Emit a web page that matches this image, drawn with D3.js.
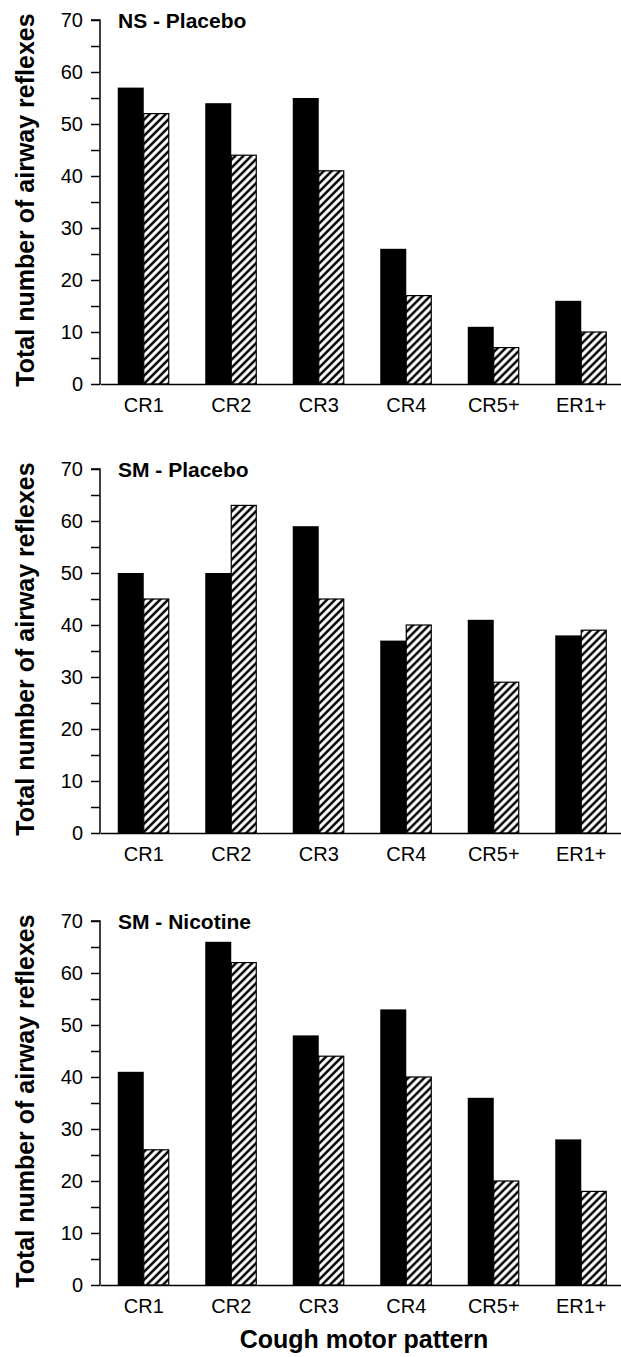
<!DOCTYPE html>
<html>
<head>
<meta charset="utf-8">
<script src="https://cdn.jsdelivr.net/npm/d3@7"></script>
<style>
  body { margin: 0; background: #fff; }
  svg { display: block; font-family: "Liberation Sans", Arial, sans-serif; }
</style>
</head>
<body>
<div id="chart"></div>
<script>
// categories on the x axis
var categories = ["CR1", "CR2", "CR3", "CR4", "CR5+", "ER1+"];

// panel titles
var panelTitles = ["NS - Placebo", "SM - Placebo", "SM - Nicotine"];

// black bars (first series) and hatched bars (second series) for each panel
var nsPlaceboSolid   = [57, 54, 55, 26, 11, 16];
var nsPlaceboHatch   = [52, 44, 41, 17, 7, 10];
var smPlaceboSolid   = [50, 50, 59, 37, 41, 38];
var smPlaceboHatch   = [45, 63, 45, 40, 29, 39];
var smNicotineSolid  = [41, 66, 48, 53, 36, 28];
var smNicotineHatch  = [26, 62, 44, 40, 20, 18];

var yTicks = [0, 5, 10, 15, 20, 25, 30, 35, 40, 45, 50, 55, 60, 65, 70];

var panels = [
    { title: panelTitles[0], solid: nsPlaceboSolid, hatch: nsPlaceboHatch },
    { title: panelTitles[1], solid: smPlaceboSolid, hatch: smPlaceboHatch },
    { title: panelTitles[2], solid: smNicotineSolid, hatch: smNicotineHatch }
];

var svgWidth = 621;
var svgHeight = 1357;

// top of each panel's plot (value 70) and plot height
var panelTops = [20, 469, 921];
var plotHeight = 364;
var axisLeft = 100;
var axisRight = 625;

var svg = d3.select("#chart")
    .append("svg")
    .attr("width", svgWidth)
    .attr("height", svgHeight);

// hatch pattern for the second series
var defs = svg.append("defs");
var pattern = defs.append("pattern")
    .attr("id", "hatch")
    .attr("patternUnits", "userSpaceOnUse")
    .attr("width", 8)
    .attr("height", 8);
pattern.append("rect")
    .attr("width", 8)
    .attr("height", 8)
    .attr("fill", "#fff");
pattern.append("path")
    .attr("d", "M-2,2 L2,-2 M0,8 L8,0 M6,10 L10,6")
    .attr("stroke", "#000")
    .attr("stroke-width", 2.5);

var xScale = d3.scaleBand()
    .domain(categories)
    .range([axisLeft, axisRight])
    .padding(0);

var barWidth = 26;
var subScale = d3.scaleBand()
    .domain(["solid", "hatch"])
    .range([-barWidth, barWidth]);

panels.forEach(function(p, i) {
    var top = panelTops[i];
    var yScale = d3.scaleLinear()
        .domain([0, 70])
        .range([top + plotHeight, top]);

    var g = svg.append("g");

    // bars
    var groups = g.selectAll(".grp")
        .data(categories)
        .enter().append("g")
        .attr("class", "grp")
        .attr("transform", function(d) {
            return "translate(" + (xScale(d) + xScale.bandwidth() / 2) + ",0)";
        });

    groups.append("rect")
        .attr("x", subScale("solid"))
        .attr("width", subScale.bandwidth())
        .attr("y", function(d, j) { return yScale(p.solid[j]); })
        .attr("height", function(d, j) { return yScale(0) - yScale(p.solid[j]); })
        .attr("fill", "#000");

    groups.append("rect")
        .attr("x", subScale("hatch"))
        .attr("width", subScale.bandwidth() - 1)
        .attr("y", function(d, j) { return yScale(p.hatch[j]); })
        .attr("height", function(d, j) { return yScale(0) - yScale(p.hatch[j]); })
        .attr("fill", "url(#hatch)")
        .attr("stroke", "#000")
        .attr("stroke-width", 1.2);

    // y axis
    var leftAxis = d3.axisLeft(yScale)
        .tickValues(yTicks)
        .tickSize(9)
        .tickPadding(8)
        .tickFormat(function(d) { return d % 10 === 0 ? d : ""; });

    var yAxis = g.append("g")
        .attr("transform", "translate(" + axisLeft + ",0)")
        .call(leftAxis);
    yAxis.select(".domain").attr("d", "M-9," + yScale(70) + "H0V" + yScale(0));

    // x axis
    var bottomAxis = d3.axisBottom(xScale)
        .tickSize(0)
        .tickPadding(14);

    g.append("g")
        .attr("transform", "translate(0," + yScale(0) + ")")
        .call(bottomAxis);

    g.selectAll(".domain").attr("stroke-width", 1.5);
    g.selectAll(".tick line").attr("stroke-width", 1.5);
    g.selectAll(".tick text")
        .attr("font-size", "20px")
        .attr("font-family", "'Liberation Sans', Arial, sans-serif")
        .attr("fill", "#000");

    // panel title
    g.append("text")
        .attr("x", 118)
        .attr("y", top + 8)
        .attr("font-size", "21px")
        .attr("font-weight", "bold")
        .text(p.title);

    // y axis title
    g.append("text")
        .attr("transform", "translate(34," + (top + plotHeight / 2 - 2) + ") rotate(-90)")
        .attr("text-anchor", "middle")
        .attr("font-size", "25px")
        .attr("font-weight", "bold")
        .text("Total number of airway reflexes");
});

// shared x axis title
svg.append("text")
    .attr("x", 364)
    .attr("y", 1348)
    .attr("text-anchor", "middle")
    .attr("font-size", "25px")
    .attr("font-weight", "bold")
    .text("Cough motor pattern");
</script>
</body>
</html>
